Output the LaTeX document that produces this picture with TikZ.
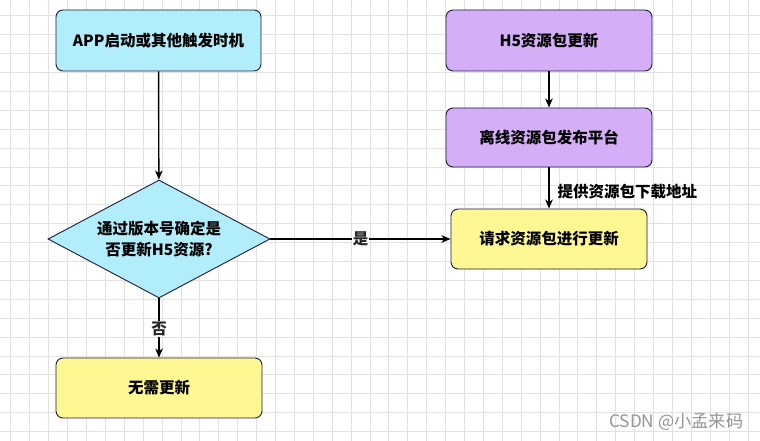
\documentclass[tikz,border=0pt]{standalone}
\usepackage{fontspec}
\setmainfont{Noto Sans CJK SC}
\usetikzlibrary{shapes.geometric,arrows.meta}
\definecolor{cyanfill}{HTML}{B2EDFB}
\definecolor{purpfill}{HTML}{D5AEF8}
\definecolor{yelfill}{HTML}{FFF792}
\definecolor{boxline}{HTML}{1C1C3C}
\definecolor{gridc}{HTML}{E2E2E2}
\tikzset{
  box/.style={draw=boxline, line width=0.9pt, rounded corners=7pt, inner sep=0pt,
    font=\fontsize{15.5}{21}\selectfont\bfseries, align=center},
  cyanbox/.style={box, fill=cyanfill},
  purpbox/.style={box, fill=purpfill},
  yelbox/.style={box, fill=yelfill},
  decision/.style={diamond, draw=boxline, line width=0.9pt, fill=cyanfill, inner sep=0pt,
    aspect=1.88, minimum width=222pt, minimum height=118pt,
    font=\fontsize{15.5}{21.7}\selectfont\bfseries, align=center},
  conn/.style={draw=black, line width=1.4pt, -{Stealth[length=9pt,width=7.5pt,inset=2.5pt]}},
  elabel/.style={font=\fontsize{15.5}{18}\selectfont\bfseries, text=black!85, inner sep=1pt},
}
\begin{document}
\begin{tikzpicture}[x=1pt,y=-1pt]
\useasboundingbox (0,0) rectangle (760,441);
\fill[white] (0,0) rectangle (760,441);
% grid
\foreach \k in {0,...,40} {
  \draw[gridc, line width=0.8pt] ({10.8+18.9*\k},0) -- ({10.8+18.9*\k},441);
}
\foreach \k in {0,...,23} {
  \draw[gridc, line width=0.8pt] (0,{15.7+18.9*\k}) -- (760,{15.7+18.9*\k});
}
% nodes
\node[cyanbox, minimum width=205pt, minimum height=61pt] (a) at (158.5,40.5) {APP启动或其他触发时机};
\node[purpbox, minimum width=206pt, minimum height=61pt] (b) at (549,40.5) {H5资源包更新};
\node[purpbox, minimum width=206pt, minimum height=59pt] (c) at (549,137.5) {离线资源包发布平台};
\node[decision] (d) at (159,239) {通过版本号确定是\\否更新H5资源?};
\node[yelbox, minimum width=196pt, minimum height=60pt] (e) at (549,239) {请求资源包进行更新};
\node[yelbox, minimum width=206pt, minimum height=60pt] (f) at (159,388) {无需更新};
% connectors
\draw[conn] (a) -- (d);
\draw[conn] (b) -- (c);
\draw[conn] (c) -- (e) node[midway, elabel, anchor=west, xshift=7pt, yshift=-3.5pt, text=black] {提供资源包下载地址};
\draw[conn] (d.east) -- (e.west) node[midway, elabel, fill=white] {是};
\draw[conn] (d.south) -- (f.north) node[midway, elabel, fill=white, yshift=-1pt] {否};
% watermark
\node[anchor=east, text=black!42, font=\fontsize{17.2}{20}\selectfont, inner sep=0pt] (wm) at (743.5,422) {CSDN @小孟来码};
\end{tikzpicture}
\end{document}
